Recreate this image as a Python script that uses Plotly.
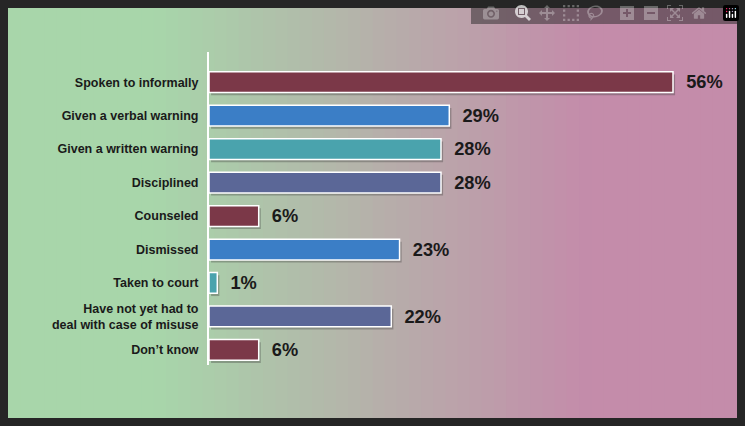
import plotly.graph_objects as go

categories = ["Spoken to informally", "Given a verbal warning", "Given a written warning",
              "Disciplined", "Counseled", "Dismissed", "Taken to court",
              "Have not yet had to<br>deal with case of misuse", "Don\u2019t know"]
values = [56, 29, 28, 28, 6, 23, 1, 22, 6]
colors = ["#7b3848", "#3b7ec6", "#4aa3ad", "#5b6797", "#7b3848", "#3b7ec6",
          "#4aa3ad", "#5b6797", "#7b3848"]

W, H = 745, 426
L, R, T, B = 209, 20, 52, 61
pw = W - L - R
ph = H - T - B

def px2x(p):
    return (p - L) / pw

def px2y(p):
    return 1 - (p - T) / ph

shapes = []
# gradient green -> pink (overlapping strips, no seams)
c0 = (168, 214, 170)
c1 = (196, 140, 170)
n = 60
x_start, x_end = 8, 737
for i in range(n):
    t = i / (n - 1)
    tt = min(1, max(0, (t - 0.2) / 0.6))
    c = tuple(int(c0[k] + (c1[k] - c0[k]) * tt) for k in range(3))
    a = x_start + (x_end - x_start) * i / n
    b = min(x_end, a + (x_end - x_start) / n + 3)
    shapes.append(dict(type="rect", xref="paper", yref="paper", x0=px2x(a), x1=px2x(b),
                       y0=px2y(418), y1=px2y(8), fillcolor="rgb(%d,%d,%d)" % c,
                       line_width=0, layer="below"))

ys = list(range(len(categories)))

fig = go.Figure()
# shadow
fig.add_trace(go.Bar(x=values, y=[y + 0.08 for y in ys], orientation="h", width=0.62,
                     marker=dict(color="rgba(60,60,60,0.35)", line_width=0),
                     base=[0.25] * len(values), hoverinfo="skip", showlegend=False))
fig.add_trace(go.Bar(x=values, y=ys, orientation="h", width=0.62,
                     marker=dict(color=colors, line=dict(color="white", width=1.5)),
                     text=[f"<b>  {v}%</b>" for v in values], textposition="outside",
                     textfont=dict(family="Liberation Sans", size=22, color="#1a1a1a"),
                     cliponaxis=False, showlegend=False))

fig.update_layout(
    width=W, height=H, margin=dict(l=L, r=R, t=T, b=B),
    paper_bgcolor="#262626", plot_bgcolor="rgba(0,0,0,0)",
    shapes=shapes, barmode="overlay", bargap=0.3,
    font=dict(family="Liberation Sans", color="#1a1a1a"),
    xaxis=dict(range=[0, 56 * pw / 464], showgrid=False, zeroline=False,
               showticklabels=False, fixedrange=True),
    yaxis=dict(range=[8.45, -0.9], tickvals=ys, ticktext=[f"<b>{c}</b>" for c in categories],
               tickfont=dict(size=12.5, color="#1a1a1a"), showgrid=False, zeroline=False,
               showline=True, linecolor="white", linewidth=2, ticks="", ticklabelstandoff=6),
)

fig.write_html("out.html", post_script="document.body.style.margin='0';")
